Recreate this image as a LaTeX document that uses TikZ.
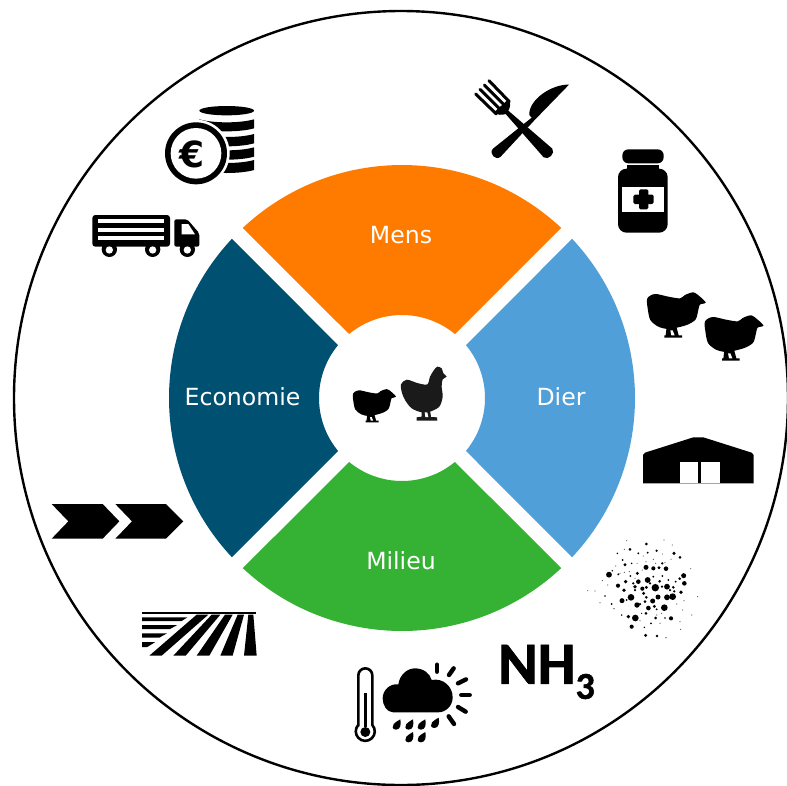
\documentclass[tikz,border=0pt]{standalone}
\usepackage{fontspec}
\setmainfont{DejaVu Sans}
\newfontfamily\nhfont{Carlito}[BoldFeatures={FakeBold=1.2}]
\definecolor{cMens}{HTML}{FF7B00}
\definecolor{cDier}{HTML}{509FD9}
\definecolor{cEco}{HTML}{005072}
\definecolor{cMil}{HTML}{35B233}
\definecolor{cHen}{HTML}{1A1A1A}
\tikzset{
  seclabel/.style={text=white,font=\fontsize{23.6}{28}\selectfont,inner sep=0pt},
  inzoom/.style={shift={#1},scale=1/3},
  ray/.style={line width=4.4pt,line cap=round,black},
}
\newcommand{\sectorshape}[2]{%
  \fill[#2] ({#1-45+1.91}:233) arc[start angle={#1-45+1.91},end angle={#1+45-1.91},radius=233]
    -- ({#1+45-5.38}:83) arc[start angle={#1+45-5.38},end angle={#1-45+5.38},radius=83] -- cycle;}
\newcommand{\chickshape}[1][black]{%
  \fill[#1] plot[smooth cycle,tension=.5] coordinates {(37,55)(60,42)(100,50)(135,55)(150,45)(175,37)(195,50)(212,68)(195,73)(190,90)(182,118)(160,133)(130,142)(100,147)(70,140)(46,120)(38,85)};
  \fill[#1] (212,68)--(195,58)--(193,74)--cycle;
  \fill[#1] (95,140)--(124,140)--(131,166)--(141,166)--(141,173)--(88,173)--(88,166)--(92,166)--cycle;
  \fill[white] (106,151)--(113,151)--(119,166)--(109,166)--cycle;}
\begin{document}
\begin{tikzpicture}[x=1pt,y=-1pt]
\useasboundingbox (0,0) rectangle (787,785);
\fill[white] (0,0) rectangle (787,785);
\draw[line width=2.4pt,black] (401,398) circle[radius=387];
% sectors
\begin{scope}[shift={(402,398)}]
  \sectorshape{270}{cMens}
  \sectorshape{0}{cDier}
  \sectorshape{90}{cMil}
  \sectorshape{180}{cEco}
\end{scope}
\node[seclabel] (mens) at (401,234.7) {Mens};
\node[seclabel] (dier) at (561,396.7) {Dier};
\node[seclabel] (eco) at (242.5,396.7) {Economie};
\node[seclabel] (mil) at (401,561) {Milieu};
% centre chick
\begin{scope}[shift={(344,380)},scale=.245]
  \chickshape
\end{scope}
% hen
\begin{scope}[inzoom={(340,355)}]
  \fill[cHen] plot[smooth cycle,tension=.5] coordinates {(183,88)(200,74)(235,85)(262,88)(270,65)(282,45)(292,35)(305,40)(310,55)(320,65)(308,73)(305,95)(308,125)(298,155)(270,170)(245,172)(215,160)(195,135)(185,110)};
  \fill[cHen] (245,165)--(270,165)--(273,186)--(291,187)--(292,197)--(230,197)--(230,187)--(245,185)--cycle;
  \fill[white] (254,172)--(262,172)--(265,186)--(256,186)--cycle;
\end{scope}
% chicks right
\begin{scope}[inzoom={(635,280)}]
  \chickshape
\end{scope}
\begin{scope}[shift={(692.7,303)},scale=1/3]
  \chickshape
\end{scope}
% barn
\begin{scope}[inzoom={(635,280)}]
  \fill (24,610)--(24,525)--(30,518)--(175,472)--(205,472)--(350,518)--(356,525)--(356,610)--cycle;
  \fill[white] (135,547) rectangle (190,610);
  \fill[white] (198,547) rectangle (254,610);
\end{scope}
% fork, knife, bottle
\begin{scope}[inzoom={(465,70)}]
  \foreach \ax/\ay/\bx/\by in {72/32/133/95,58/45/120/107,45/58/107/120,32/72/94/132}
    \draw[line width=3pt,line cap=round] (\ax,\ay)--(\bx,\by);
  \fill (130,88) .. controls (138,100) and (136,112) .. (130,122) -- (262,236)
    .. controls (272,250) and (250,272) .. (236,262) -- (122,132) .. controls (110,136) and (98,136) .. (88,126) -- cycle;
  \draw[white,line width=4pt] (95,250)--(205,148);
  \fill (312,44) .. controls (260,42) and (190,90) .. (193,135) -- (200,143) -- (84,236)
    .. controls (70,250) and (92,274) .. (107,260) -- (209,150) -- cycle;
  \fill[rounded corners=6pt] (472,238) rectangle (596,280);
  \fill (487,285) rectangle (581,302);
  \fill[rounded corners=8.5pt] (459,296) rectangle (608,488);
  \fill[white] (471,350) rectangle (597,427);
  \fill[rounded corners=1.5pt] (505,374) rectangle (566,402);
  \fill[rounded corners=1.5pt] (522,358) rectangle (550,418);
\end{scope}
% coins
\begin{scope}[inzoom={(150,90)}]
  \fill (230,62) ellipse[x radius=82,y radius=14];
  \foreach \y/\h in {76/27,120/28,160/28,198/30}
    \fill (148,\y+12) .. controls (190,\y+24) and (270,\y+24) .. (312,\y+12) -- (312,\y+12+\h) .. controls (270,\y+24+\h) and (190,\y+24+\h) .. (148,\y+12+\h) -- cycle;
  \fill[white] (138,190) circle[radius=101];
  \fill (138,190) circle[radius=93];
  \fill[white] (138,190) circle[radius=76];
  \node[font=\fontsize{36}{38}\selectfont\bfseries,inner sep=0pt] (euro) at (125,192) {€};
\end{scope}
% truck
\begin{scope}[inzoom={(80,200)}]
  \fill[rounded corners=3pt] (37,45) rectangle (270,140);
  \foreach \y in {58,84,109} \fill[white] (55,\y) rectangle (252,\y+12);
  \fill[rounded corners=2pt] (283,58)--(322,58)--(358,100)--(358,140)--(283,140)--cycle;
  \fill[white] (305,72)--(325,72)--(345,103)--(305,103)--cycle;
  \foreach \x in {88,218,322} {
    \fill (\x,148) circle[radius=23];
    \fill[white] (\x,150) circle[radius=11];
  }
\end{scope}
% chevrons, field
\begin{scope}[inzoom={(40,490)}]
  \fill (35,42)--(188,42)--(238,94)--(188,146)--(35,146)--(85,94)--cycle;
  \fill (226,42)--(378,42)--(430,94)--(378,146)--(226,146)--(276,94)--cycle;
  \fill (306,367) rectangle (648,373);
  \fill (306,382)--(442,382)--(425,393)--(306,393)--cycle;
  \fill (306,405)--(412,405)--(390,417)--(306,417)--cycle;
  \fill (306,430)--(381,430)--(358,443)--(306,443)--cycle;
  \fill (306,456)--(346,456)--(322,471)--(306,471)--cycle;
  \fill (470,374)--(505,374)--(365,497)--(328,497)--cycle;
  \fill (515,374)--(541,374)--(437,497)--(400,497)--cycle;
  \fill (555,374)--(578,374)--(508,497)--(470,497)--cycle;
  \fill (593,374)--(612,374)--(578,497)--(541,497)--cycle;
  \fill (625,374)--(640,374)--(650,497)--(612,497)--cycle;
\end{scope}
% dust
\begin{scope}[inzoom={(585,530)}]
  \foreach \x/\y/\r in {184/42/3.5,135/58/3.5,267/70/4,285/82/3.5,72/134/7,183/112/6,205/115/5,222/113/4,243/116/5.5,120/104/4,157/130/4,188/150/7,160/155/5.5,296/137/6,298/160/5.5,284/146/3.5,99/167/5,122/155/4.5,211/173/9,246/170/7,172/176/5,184/172/4,150/170/4.5,224/154/3.5,265/172/3.5,117/181/4.5,288/187/4.5,176/190/4,138/202/8,111/212/6,219/201/6,246/202/7,263/200/8,203/213/6,184/202/3.5,156/225/6.5,190/234/5.5,208/229/4,238/233/8,183/250/3.5,130/260/4.5,151/264/8,258/265/5,212/264/3.5,140/290/5,182/316/4,216/318/3.5,268/184/3,136/138/2.5,232/138/2.5,205/140/2.5,215/62/3,160/70/2.5,188/68/2.5,232/100/3,97/70/2,113/90/2.5,140/100/2,82/122/2,100/133/2.5,60/198/2,80/222/2.5,87/236/1.5,110/255/2,170/250/1.5,178/292/2,198/280/2.5,240/264/2,345/342/1.5,243/323/1.5,272/155/2.5,145/160/3,195/160/3,231/170/3,255/180/3,180/215/3.5,192/236/4,150/180/3,165/222/3,125/210/2.5,215/238/2.5,250/150/2.5}
    \fill (\x,\y) circle[radius={\r*1.25}];
  \foreach \x/\y in {125/32,237/30,262/45,118/58,175/78,232/72,258/88,205/88,183/95,240/98,156/100,212/100,92/108,317/116,118/127,133/125,150/145,172/120,52/152,68/165,30/183,8/182,45/218,105/130,338/200,297/212,293/240,320/255,225/280,285/275,287/298,165/272,215/255,230/250,275/222}
    \fill[black!65] (\x,\y) circle[radius=1.8];
\end{scope}
% weather
\begin{scope}[inzoom={(340,640)}]
  \draw[line width=2.6pt,black,fill=white] (55,255)--(55,106) arc[start angle=180,end angle=360,radius=21] -- (97,255) arc[start angle=-42,end angle=222,radius=28.5] -- cycle;
  \draw[line width=3pt,black] (76,160)--(76,260);
  \fill (76,276) circle[radius=15];
  \fill (128,175) .. controls (128,150) and (150,130) .. (175,133)
    .. controls (180,100) and (205,85) .. (225,85)
    .. controls (250,85) and (270,100) .. (275,120)
    .. controls (310,113) and (338,140) .. (338,172)
    .. controls (338,200) and (315,217) .. (295,217) -- (160,217)
    .. controls (140,217) and (128,195) .. (128,175) -- cycle;
  \foreach \ax/\ay/\bx/\by in {291/74/291/95,341/85/327/105,378/118/354/130,389/165/364/165,377/215/354/201,342/252/326/229}
    \draw[ray] (\ax,\ay)--(\bx,\by);
  \foreach \x/\y in {170/257,208/257,245/257,285/252,208/295,245/295}
    \fill (\x+11,\y-19) .. controls (\x+14,\y-5) and (\x+12,\y+12) .. (\x-2,\y+12) .. controls (\x-14,\y+12) and (\x-14,\y) .. (\x-9,\y-5) .. controls (\x-5,\y-10) and (\x+4,\y-15) .. (\x+11,\y-19) -- cycle;
\end{scope}
\node[inner sep=0pt,anchor=west,font=\nhfont\bfseries\fontsize{60}{62}\selectfont] (nh) at (498,672) {NH\raisebox{-15pt}{\fontsize{38}{40}\selectfont 3}};
\end{tikzpicture}
\end{document}
